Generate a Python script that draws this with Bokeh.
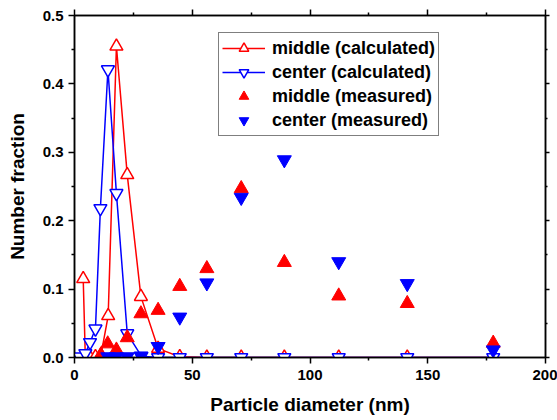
from bokeh.plotting import figure
from bokeh.models import (Range1d, FixedTicker, LinearAxis, PrintfTickFormatter,
                          Legend, LegendItem)
from bokeh.embed import file_html
from bokeh.resources import INLINE

# ---------------- data ----------------
red_calc_x = [3.7, 4.6, 6.6, 8.9, 11.2, 14.3, 17.8, 22.4, 28.2, 35.5, 44.7, 56.2, 70.8, 89.1, 112.2, 141.3, 177.8]
red_calc_y = [0.115, 0.0, 0.0, 0.001, 0.003, 0.061, 0.455, 0.267, 0.089, 0.013, 0.001, 0.0, 0.0, 0.0, 0.0, 0.0, 0.0]

blue_calc_x = [2.2, 4.6, 6.6, 8.9, 11.0, 14.2, 17.8, 22.4, 28.4, 35.5, 44.7, 56.2, 70.8, 89.1, 112.2, 141.3, 177.8]
blue_calc_y = [0.001, 0.006, 0.022, 0.042, 0.218, 0.421, 0.240, 0.035, 0.002, 0.0, 0.0, 0.0, 0.0, 0.0, 0.0, 0.0, 0.0]

red_meas_x = [11.2, 14.1, 17.8, 22.4, 28.2, 35.5, 44.7, 56.2, 70.8, 89.1, 112.2, 141.3, 177.8]
red_meas_y = [0.004, 0.020, 0.011, 0.029, 0.064, 0.069, 0.104, 0.130, 0.247, 0.139, 0.090, 0.079, 0.021]

blue_meas_x = [14.1, 17.8, 22.4, 28.2, 35.5, 44.7, 56.2, 70.8, 89.1, 112.2, 141.3, 177.8]
blue_meas_y = [0.001, 0.001, 0.001, 0.002, 0.016, 0.059, 0.109, 0.234, 0.289, 0.140, 0.108, 0.011]

x_ticks = [0, 50, 100, 150, 200]
x_minor = [25, 75, 125, 175]
y_ticks = [0.0, 0.1, 0.2, 0.3, 0.4, 0.5]
y_minor = [0.05, 0.15, 0.25, 0.35, 0.45]

labels = ["middle (calculated)", "center (calculated)", "middle (measured)", "center (measured)"]

RED = "#FF0000"
BLUE = "#0000FF"
FONT = "Liberation Sans"

p = figure(width=557, height=420, output_backend="svg", toolbar_location=None,
           x_range=Range1d(0, 200), y_range=Range1d(0, 0.5),
           min_border_left=74, min_border_right=12, min_border_top=15, min_border_bottom=63,
           x_axis_label="Particle diameter (nm)", y_axis_label="Number fraction")
p.grid.visible = False
p.outline_line_color = "black"
p.outline_line_width = 1.5
p.background_fill_color = "white"
p.border_fill_color = "white"

xt = FixedTicker(ticks=x_ticks, minor_ticks=x_minor)
yt = FixedTicker(ticks=y_ticks, minor_ticks=y_minor)

def style(ax, labels_on, out_major, out_minor):
    ax.axis_line_width = 1.5
    ax.axis_line_color = "black"
    ax.major_tick_line_width = 1.5
    ax.minor_tick_line_width = 1.5
    ax.major_tick_in = 0
    ax.minor_tick_in = 0
    ax.major_tick_out = out_major
    ax.minor_tick_out = out_minor
    if labels_on:
        ax.major_label_text_font = FONT
        ax.major_label_text_font_style = "bold"
        ax.major_label_text_font_size = "15px"
        ax.major_label_text_color = "black"
        ax.axis_label_text_font = FONT
        ax.axis_label_text_font_style = "bold"
        ax.axis_label_text_font_size = "19px"
        ax.axis_label_text_color = "black"
    else:
        ax.major_label_text_font_size = "1px"
        ax.major_label_text_color = None
        ax.major_label_standoff = 0

xa = p.xaxis[0]
xa.ticker = xt
style(xa, True, 6, 3)
xa.major_label_standoff = 6
xa.axis_label_standoff = 11

ya = p.yaxis[0]
ya.ticker = yt
ya.formatter = PrintfTickFormatter(format="%.1f")
style(ya, True, 6, 3)
ya.major_label_standoff = 5
ya.axis_label_standoff = 12

top = LinearAxis(ticker=FixedTicker(ticks=x_ticks, minor_ticks=x_minor))
style(top, False, 6, 3)
p.add_layout(top, "above")
right = LinearAxis(ticker=FixedTicker(ticks=y_ticks, minor_ticks=y_minor))
style(right, False, 4, 2)
p.add_layout(right, "right")

# ---------------- glyphs ----------------
r1l = p.line(red_calc_x, red_calc_y, line_color=RED, line_width=1.5)
r1s = p.scatter(red_calc_x, red_calc_y, marker="triangle", size=13, line_color=RED,
                line_width=1.5, fill_color="white")
r2l = p.line(blue_calc_x, blue_calc_y, line_color=BLUE, line_width=1.5)
r2s = p.scatter(blue_calc_x, blue_calc_y, marker="inverted_triangle", size=13, line_color=BLUE,
                line_width=1.5, fill_color="white")
r3 = p.scatter(red_meas_x, red_meas_y, marker="triangle", size=14, line_color=RED,
               fill_color=RED)
r4 = p.scatter(blue_meas_x, blue_meas_y, marker="inverted_triangle", size=14, line_color=BLUE,
               fill_color=BLUE)

legend = Legend(items=[
    LegendItem(label=labels[0], renderers=[r1l, r1s]),
    LegendItem(label=labels[1], renderers=[r2l, r2s]),
    LegendItem(label=labels[2], renderers=[r3]),
    LegendItem(label=labels[3], renderers=[r4]),
], location=(144, 221))
legend.label_text_font = FONT
legend.label_text_font_style = "bold"
legend.label_text_font_size = "18px"
legend.label_text_color = "black"
legend.border_line_color = "black"
legend.border_line_width = 1
legend.background_fill_color = "white"
legend.background_fill_alpha = 1
legend.padding = 3
legend.margin = 0
legend.spacing = 0
legend.glyph_width = 43
legend.glyph_height = 24
legend.label_height = 24
legend.label_standoff = 7
p.add_layout(legend, "center")

open("out.html", "w").write(file_html(p, INLINE))
